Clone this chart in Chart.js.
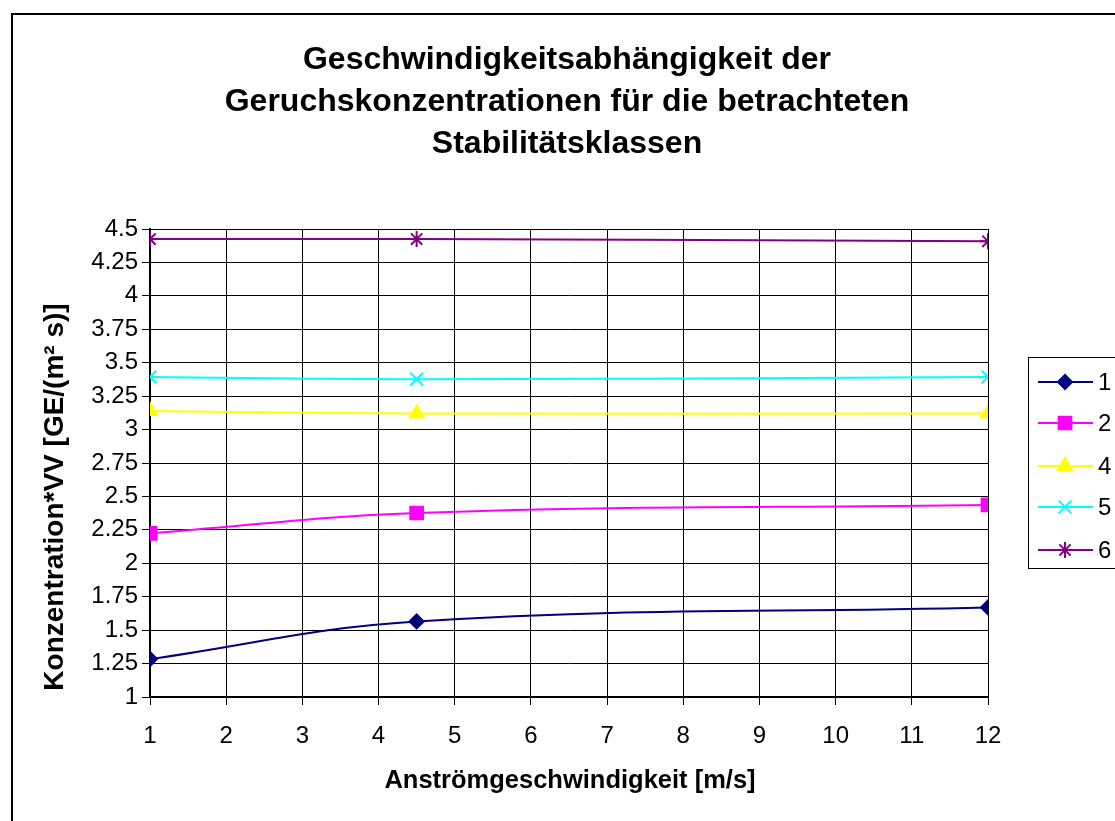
<!DOCTYPE html>
<html>
<head>
<meta charset="utf-8">
<script src="https://cdn.jsdelivr.net/npm/chart.js@4/dist/chart.umd.min.js"></script>
<style>
html,body{margin:0;padding:0;background:#fff;overflow:hidden;}
canvas{display:block;}
</style>
</head>
<body>
<canvas id="c" width="1115" height="821"></canvas>
<script>
// ---- data ----
const titleLines = ["Geschwindigkeitsabhängigkeit der", "Geruchskonzentrationen für die betrachteten", "Stabilitätsklassen"];
const xTitle = "Anströmgeschwindigkeit [m/s]";
const yTitle = "Konzentration*VV [GE/(m² s)]";
const speeds = [1, 4.5, 12];
const seriesNames = ["1", "2", "4", "5", "6"];
const s1 = [1.284, 1.565, 1.670];
const s2 = [2.224, 2.376, 2.436];
const s4 = [3.138, 3.120, 3.120];
const s5 = [3.393, 3.377, 3.393];
const s6 = [4.425, 4.425, 4.408];
const xTicks = [1, 2, 3, 4, 5, 6, 7, 8, 9, 10, 11, 12];
const yTicks = ["1", "1.25", "1.5", "1.75", "2", "2.25", "2.5", "2.75", "3", "3.25", "3.5", "3.75", "4", "4.25", "4.5"];

const FONT = "'Liberation Sans', Arial, sans-serif";

function pts(vals){ return speeds.map((x,i)=>({x:x, y:vals[i]})); }

const styles = [
  {color:'#000080', pointStyle:'rectRot', radius:7},
  {color:'#FF00FF', pointStyle:'rect', radius:9},
  {color:'#FFFF00', pointStyle:'triangle', radius:8},
  {color:'#00FFFF', pointStyle:'crossRot', radius:9},
  {color:'#800080', pointStyle:'star', radius:8}
];
const allSeries = [s1, s2, s4, s5, s6];

const datasets = allSeries.map((vals, i) => ({
  label: seriesNames[i],
  data: pts(vals),
  showLine: true,
  borderColor: styles[i].color,
  backgroundColor: styles[i].color,
  borderWidth: 2,
  tension: 0.4,
  pointStyle: styles[i].pointStyle,
  pointRadius: styles[i].radius,
  pointBorderWidth: 2,
  pointBorderColor: styles[i].color,
  pointBackgroundColor: styles[i].color,
  pointHoverRadius: styles[i].radius
}));

const decor = {
  id: 'decor',
  afterDraw(chart){
    const ctx = chart.ctx;
    ctx.save();
    // outer border
    ctx.strokeStyle = '#000';
    ctx.lineWidth = 2;
    ctx.strokeRect(12, 14, 1200, 900);
    // title
    ctx.fillStyle = '#000';
    ctx.textAlign = 'center';
    ctx.textBaseline = 'middle';
    ctx.font = "bold 32px " + FONT;
    const tys = [60, 102, 144];
    titleLines.forEach((t, i) => ctx.fillText(t, 567, tys[i]));
    // x title
    ctx.font = "bold 25.5px " + FONT;
    ctx.fillText(xTitle, 570, 781);
    // y title
    ctx.save();
    ctx.translate(55, 497);
    ctx.rotate(-Math.PI/2);
    ctx.font = "bold 28px " + FONT;
    ctx.fillText(yTitle, 0, 0);
    ctx.restore();
    // legend box
    ctx.lineWidth = 1;
    ctx.strokeStyle = '#000';
    ctx.strokeRect(1028.5, 357.5, 200, 211);
    const ly = [382, 423, 466, 507, 550];
    chart.data.datasets.forEach((ds, i) => {
      const y = ly[i];
      ctx.strokeStyle = ds.borderColor;
      ctx.lineWidth = 2;
      ctx.beginPath();
      ctx.moveTo(1038, y);
      ctx.lineTo(1093, y);
      ctx.stroke();
      ctx.save();
      ctx.fillStyle = ds.backgroundColor;
      ctx.strokeStyle = ds.borderColor;
      ctx.lineWidth = 2;
      Chart.helpers.drawPoint(ctx, {pointStyle: ds.pointStyle, rotation: 0, borderWidth: 2, radius: ds.pointRadius}, 1065, y);
      ctx.restore();
      ctx.fillStyle = '#000';
      ctx.textAlign = 'left';
      ctx.font = "24px " + FONT;
      ctx.fillText(ds.label, 1098, y + 1);
    });
    ctx.restore();
  }
};

new Chart(document.getElementById('c'), {
  type: 'scatter',
  data: { datasets },
  options: {
    responsive: false,
    animation: false,
    events: [],
    layout: { padding: { top: 229, right: 127, left: 0, bottom: 0 } },
    plugins: { legend: { display: false }, title: { display: false }, tooltip: { enabled: false } },
    scales: {
      x: {
        type: 'linear', min: 1, max: 12,
        afterFit: s => { s.height = 124; },
        afterBuildTicks: s => { s.ticks = xTicks.map(v => ({value: v})); },
        grid: { color: '#000', lineWidth: 1, tickLength: 8, drawTicks: true },
        border: { color: '#000', width: 2 },
        ticks: { color: '#000', font: { family: FONT, size: 24 }, padding: 17, maxRotation: 0, autoSkip: false,
                 callback: (v) => String(v) }
      },
      y: {
        type: 'linear', min: 1, max: 4.5,
        afterFit: s => { s.width = 150; },
        afterBuildTicks: s => { s.ticks = yTicks.map(v => ({value: parseFloat(v)})); },
        grid: { color: '#000', lineWidth: 1, tickLength: 8, drawTicks: true },
        border: { color: '#000', width: 2 },
        ticks: { color: '#000', font: { family: FONT, size: 24 }, padding: 4, autoSkip: false,
                 callback: (v) => { const i = yTicks.findIndex(t => Math.abs(parseFloat(t) - v) < 1e-6); return i >= 0 ? yTicks[i] : ''; } }
      }
    }
  },
  plugins: [decor]
});
</script>
</body>
</html>
